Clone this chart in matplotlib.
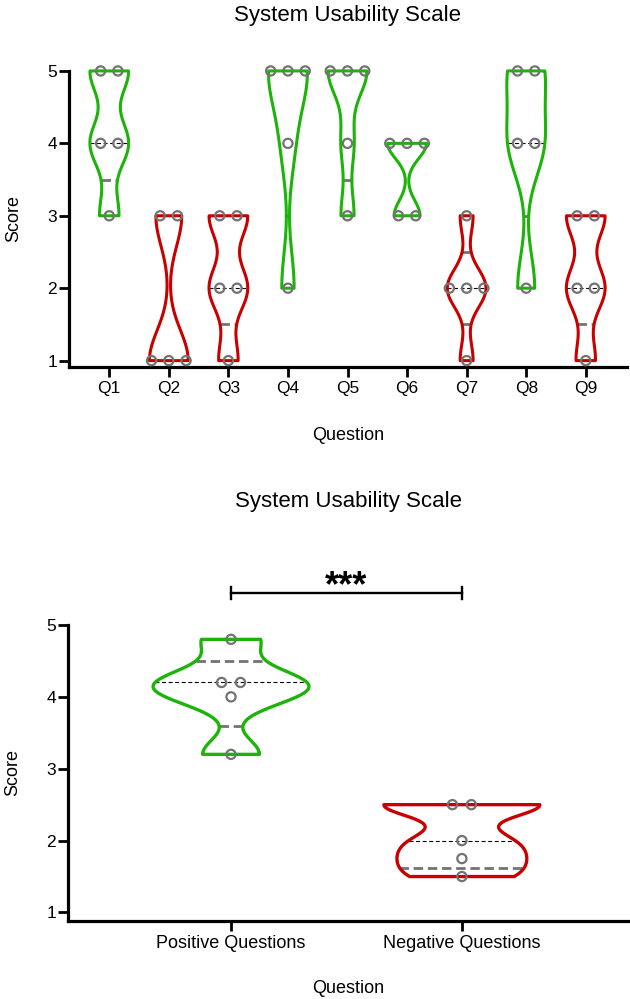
import numpy as np
import matplotlib
matplotlib.use("Agg")
import matplotlib.pyplot as plt

plt.rcParams["font.family"] = ["Liberation Sans", "DejaVu Sans"]

# ---- data ----
questions = ["Q1", "Q2", "Q3", "Q4", "Q5", "Q6", "Q7", "Q8", "Q9"]
q_scores = [
    [5, 5, 4, 4, 3],
    [3, 3, 1, 1, 1],
    [3, 3, 2, 2, 1],
    [5, 5, 5, 4, 2],
    [5, 5, 5, 4, 3],
    [4, 4, 4, 3, 3],
    [3, 2, 2, 2, 1],
    [5, 5, 4, 4, 2],
    [3, 3, 2, 2, 1],
]
q_positive = [True, False, False, True, True, True, False, True, False]

groups = ["Positive Questions", "Negative Questions"]
group_scores = [
    [4.8, 4.2, 4.2, 4.0, 3.2],
    [2.5, 2.5, 2.0, 1.75, 1.5],
]
group_positive = [True, False]
significance = "***"

GREEN = "#1cb408"
RED = "#c80000"
DOT = "#737373"
BW_FACTOR = 0.38


def draw_violin(ax, pos, vals, color, width, dot_gap, lw=2.2):
    vals = np.asarray(vals, dtype=float)
    bw = BW_FACTOR * vals.std(ddof=1)
    y = np.linspace(vals.min(), vals.max(), 300)
    dens = np.exp(-0.5 * ((y[:, None] - vals[None, :]) / bw) ** 2).sum(axis=1)
    half = dens / dens.max() * width / 2

    ax.fill_betweenx(y, pos - half, pos + half, facecolor="none",
                     edgecolor=color, linewidth=lw, zorder=3, clip_on=False)

    # quartile / median lines, skipped where they sit on the flat ends
    inside = lambda q: vals.min() < q < vals.max()
    q1, med, q3 = np.percentile(vals, [25, 50, 75], method="weibull")
    for q in (q1, q3):
        if inside(q):
            hw = np.interp(q, y, half)
            ax.plot([pos - hw, pos + hw], [q, q], color=DOT, linewidth=2.0,
                    dashes=(3.4, 1.7), zorder=2, clip_on=False)
    if inside(med):
        hw = np.interp(med, y, half)
        ax.plot([pos - hw, pos + hw], [med, med], color="black", linewidth=0.8,
                dashes=(3.6, 2.3), zorder=2, clip_on=False)

    # tied values are laid side by side
    xs, ys = [], []
    for v in np.unique(vals):
        k = int((vals == v).sum())
        offs = (np.arange(k) - (k - 1) / 2) * dot_gap
        xs.extend(pos + offs)
        ys.extend([v] * k)
    ax.scatter(xs, ys, s=44, facecolors="none", edgecolors=DOT,
               linewidths=1.6, zorder=4, clip_on=False)


def style_axes(ax, xsize, ysize):
    for side in ("top", "right"):
        ax.spines[side].set_visible(False)
    for side in ("left", "bottom"):
        ax.spines[side].set_linewidth(2.3)
    ax.tick_params(axis="both", width=2.0, length=7.5, color="black")
    ax.tick_params(axis="x", labelsize=xsize, pad=2.5)
    ax.tick_params(axis="y", labelsize=ysize, pad=1)
    ax.set_yticks([1, 2, 3, 4, 5])


fig = plt.figure(figsize=(6.30, 9.99), dpi=100)

# ---- top panel: individual questions ----
ax1 = fig.add_axes([0.1095, 0.633, 0.8855, 0.296])
pos1 = np.arange(1, len(questions) + 1)
for p, vals, good in zip(pos1, q_scores, q_positive):
    draw_violin(ax1, p, vals, GREEN if good else RED, width=0.65, dot_gap=0.29)
ax1.set_xlim(0.324, 9.69)
ax1.set_ylim(0.917, 5)
ax1.set_xticks(pos1)
ax1.set_xticklabels(questions)
style_axes(ax1, 12.5, 12.5)
ax1.set_xlabel("Question", fontsize=13)
ax1.set_ylabel("Score", fontsize=13)
ax1.xaxis.set_label_coords(0.5, -0.205)
ax1.yaxis.set_label_coords(-0.083, 0.5)
ax1.text(0.5, 1.188, "System Usability Scale", transform=ax1.transAxes,
         ha="center", va="center", fontsize=16)

# ---- bottom panel: positive vs negative ----
ax2 = fig.add_axes([0.108, 0.0784, 0.889, 0.296])
pos2 = np.arange(1, len(groups) + 1)
for p, vals, good in zip(pos2, group_scores, group_positive):
    draw_violin(ax2, p, vals, GREEN if good else RED, width=0.675,
                dot_gap=0.082, lw=2.4)
ax2.set_xlim(0.294, 2.72)
ax2.set_ylim(0.886, 5)
ax2.set_xticks(pos2)
ax2.set_xticklabels(groups)
style_axes(ax2, 13, 12.5)
ax2.set_xlabel("Question", fontsize=13)
ax2.set_ylabel("Score", fontsize=13)
ax2.xaxis.set_label_coords(0.5, -0.2)
ax2.yaxis.set_label_coords(-0.083, 0.5)
ax2.text(0.5, 1.416, "System Usability Scale", transform=ax2.transAxes,
         ha="center", va="center", fontsize=16)

# significance bracket
y_bar, cap = 5.445, 0.085
ax2.plot([pos2[0], pos2[1]], [y_bar, y_bar], color="black", linewidth=1.7,
         clip_on=False)
for p in pos2:
    ax2.plot([p, p], [y_bar - cap, y_bar + cap], color="black",
             linewidth=1.7, clip_on=False)
ax2.text(pos2.mean(), 5.40, significance, ha="center", va="baseline",
         fontsize=26, fontweight="bold")

fig.savefig("out.png", dpi=100)
